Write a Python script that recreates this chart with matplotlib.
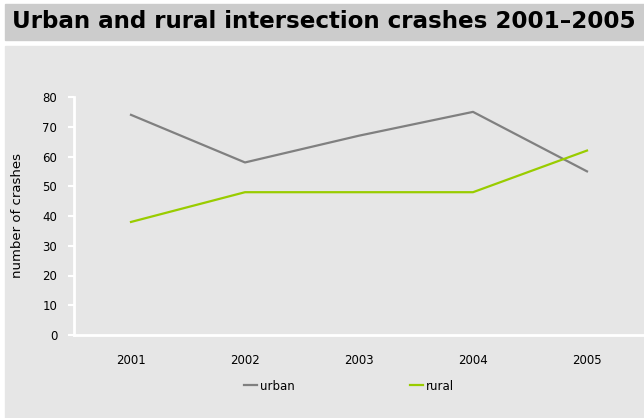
import matplotlib.pyplot as plt
from matplotlib.patches import Rectangle

years = ["2001", "2002", "2003", "2004", "2005"]
urban = [74, 58, 67, 75, 55]
rural = [38, 48, 48, 48, 62]
y_ticks = [0, 10, 20, 30, 40, 50, 60, 70, 80]

W, H = 644, 418
fig = plt.figure(figsize=(W / 100, H / 100), dpi=100)
fig.patch.set_facecolor("white")

# title band and plot panel
fig.patches.append(Rectangle((5 / W, 1 - 40 / H), 1 - 5 / W, 36 / H,
                             transform=fig.transFigure, color="#cccccc", zorder=-10))
fig.patches.append(Rectangle((5 / W, 0), 1 - 5 / W, 1 - 46 / H,
                             transform=fig.transFigure, color="#e6e6e6", zorder=-10))
fig.text(12 / W, 1 - 22 / H, "Urban and rural intersection crashes 2001\u20132005",
         fontsize=16.6, fontweight="bold", va="center", ha="left", color="black")

ax = fig.add_axes([74 / W, (H - 335) / H, 1 - 74 / W, (335 - 97) / H])
ax.set_zorder(5)
ax.set_facecolor("none")
x = range(len(years))
ax.plot(x, urban, color="#808080", lw=1.6, label="urban")
ax.plot(x, rural, color="#99cc00", lw=1.6, label="rural")

ax.set_xlim(-0.5, len(years) - 0.5)
ax.set_ylim(0, 80)
ax.set_xticks(list(x))
ax.set_xticklabels(years)
ax.set_yticks(y_ticks)
for s in ["top", "right"]:
    ax.spines[s].set_visible(False)
for s in ["left", "bottom"]:
    ax.spines[s].set_color("white")
    ax.spines[s].set_linewidth(2)
ax.tick_params(axis="x", length=0, pad=14, labelsize=8.5)
ax.tick_params(axis="y", length=4, width=1.5, color="white", pad=8, labelsize=8.5)
ax.set_ylabel("number of crashes", fontsize=9.5, labelpad=13)

fig.legend(loc="center", bbox_to_anchor=(349 / W, 1 - 386 / H), ncol=2,
           frameon=False, fontsize=8.5, handlelength=1.1, handletextpad=0.2,
           columnspacing=9.8)

fig.savefig("out.png", dpi=100)
